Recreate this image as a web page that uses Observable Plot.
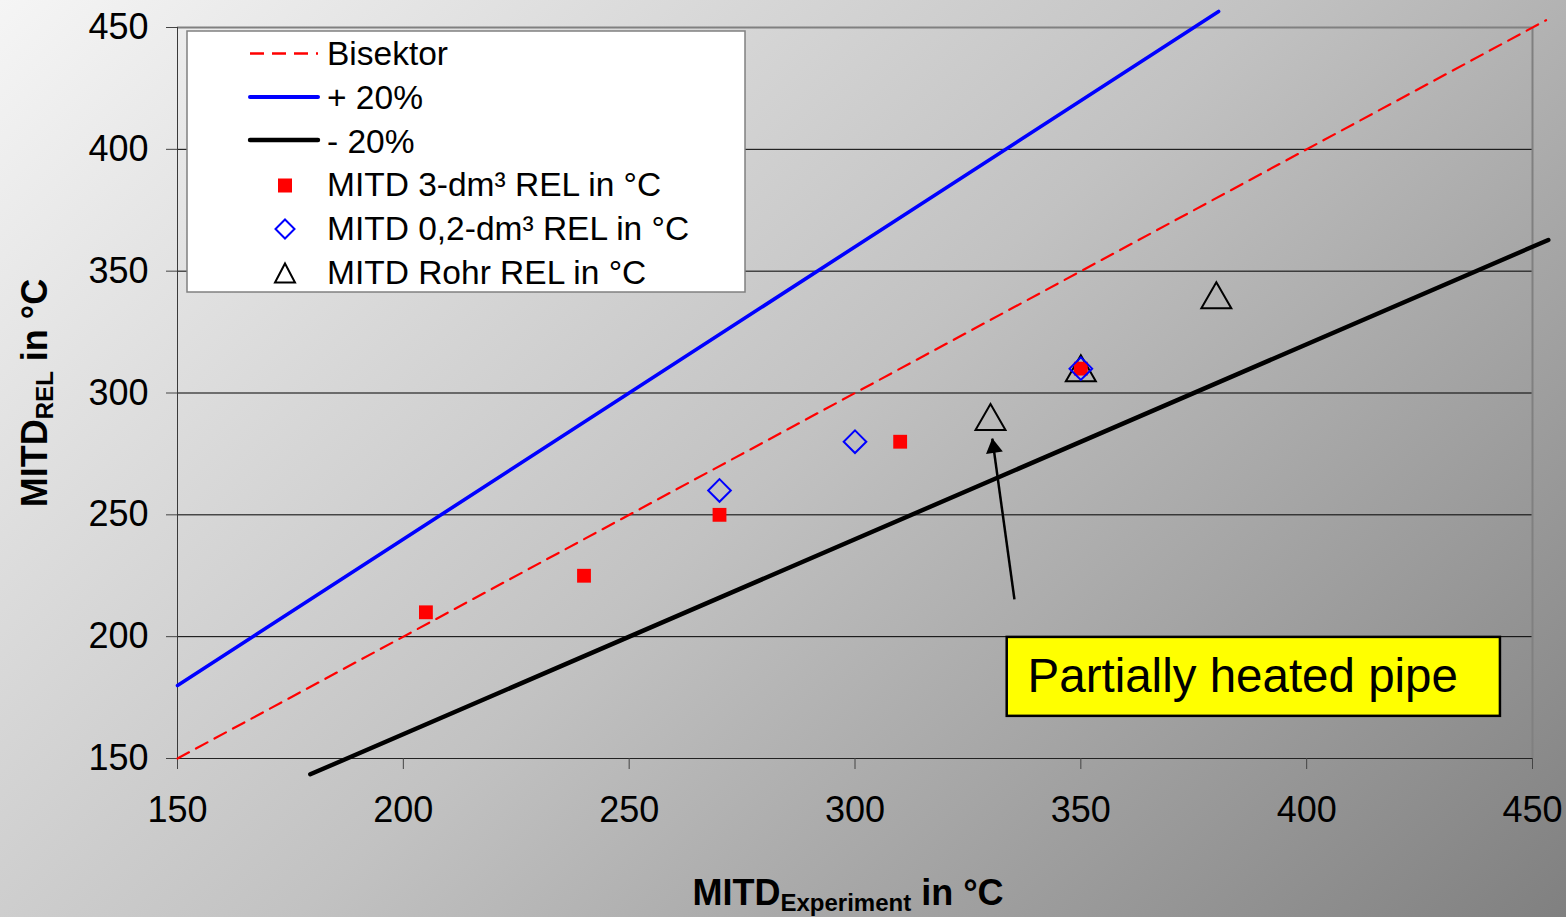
<!DOCTYPE html>
<html>
<head>
<meta charset="utf-8">
<script src="https://cdn.jsdelivr.net/npm/d3@7"></script>
<script src="https://cdn.jsdelivr.net/npm/@observablehq/plot@0.6"></script>
<style>
  html, body { margin: 0; padding: 0; overflow: hidden; }
  body {
    width: 1566px; height: 917px; position: relative;
    background: linear-gradient(136.8deg, #f5f5f5 0%, #c2c2c2 50%, #808080 100%);
    font-family: "Liberation Sans", Arial, sans-serif;
  }
  #chart { position: absolute; left: 0; top: 0; }
  #legend { position: absolute; left: 186px; top: 30px; }
</style>
</head>
<body>
<div id="chart"></div>
<div id="legend"></div>
<script>
// ---- data ----
const xTicks = [150, 200, 250, 300, 350, 400, 450];
const yTicks = [150, 200, 250, 300, 350, 400, 450];
const gridY = [200, 250, 300, 350, 400];

// reference lines (endpoints)
const bisektorX = [150, 453];
const bisektorY = [150, 453];
const plusX = [150, 380.5];
const plusY = [180, 456.6];
const minusX = [179.4, 453.5];
const minusY = [143.5, 362.8];

// MITD 3-dm³ REL
const red3X = [205, 240, 270, 310, 350];
const red3Y = [210, 225, 250, 280, 310];
// MITD 0,2-dm³ REL
const blue02X = [270, 300, 350];
const blue02Y = [260, 280, 310];
// MITD Rohr REL
const rohrX = [330, 350, 380];
const rohrY = [290, 310, 340];

const legendLabels = ["Bisektor", "+ 20%", "- 20%", "MITD 3-dm³ REL in °C", "MITD 0,2-dm³ REL in °C", "MITD Rohr REL in °C"];

// annotation
const noteText = "Partially heated pipe";
const noteBoxX = [333.7, 442.9];
const noteBoxY = [167.3, 199.7];
const noteTextX = 338.2;
const noteTextY = 183.6;
const arrowFrom = [335.3, 215.3];
const arrowTo = [330.4, 281.3];

// ---- chart ----
const plot = Plot.plot({
  width: 1566,
  height: 917,
  marginLeft: 177,
  marginRight: 34,
  marginTop: 27,
  marginBottom: 159,
  x: { domain: [150, 450] },
  y: { domain: [150, 450] },
  style: {
    background: "transparent",
    fontFamily: "'Liberation Sans', Arial, sans-serif",
    fontSize: "36px",
    color: "black",
    overflow: "visible"
  },
  marks: [
    Plot.ruleY(gridY, { stroke: "#000", strokeWidth: 1 }),
    Plot.ruleY([450], { stroke: "#808080", strokeWidth: 2 }),
    Plot.ruleX([450], { stroke: "#808080", strokeWidth: 2 }),
    Plot.ruleX([150], { stroke: "#3a3a3a", strokeWidth: 1 }),
    Plot.ruleY([150], { stroke: "#222", strokeWidth: 1.2 }),
    Plot.axisX(xTicks, { tickSize: 11, tickPadding: 27, label: null, stroke: "#444", fill: "black" }),
    Plot.axisY(yTicks, { tickSize: 11, tickPadding: 18, label: null, stroke: "#444", fill: "black" }),
    Plot.line(d3.zip(bisektorX, bisektorY), { stroke: "#ff0000", strokeWidth: 2.2, strokeDasharray: "13,8" }),
    Plot.line(d3.zip(plusX, plusY), { stroke: "#0000ff", strokeWidth: 3.6 }),
    Plot.line(d3.zip(minusX, minusY), { stroke: "#000", strokeWidth: 4.4 }),
    Plot.dot(d3.zip(rohrX, rohrY), { symbol: "triangle2", r: 14.3, stroke: "#000", strokeWidth: 2, fill: "none", dy: 4 }),
    Plot.dot(d3.zip(red3X, red3Y), { symbol: "square", r: 7.8, fill: "#ff0000" }),
    Plot.dot(d3.zip(blue02X, blue02Y), { symbol: "diamond2", r: 10.2, stroke: "#0000ff", strokeWidth: 2, fill: "none" }),
    Plot.link([{ x1: arrowFrom[0], y1: arrowFrom[1], x2: arrowTo[0], y2: arrowTo[1] }], { x1: "x1", y1: "y1", x2: "x2", y2: "y2", stroke: "#000", strokeWidth: 2.5 }),
    Plot.dot([arrowTo], { x: d => d[0], y: d => d[1], symbol: "triangle", r: 6.3, fill: "#000", rotate: -8.5, dx: 1.4, dy: 9.3 }),
    Plot.rect([0], { x1: () => noteBoxX[0], x2: () => noteBoxX[1], y1: () => noteBoxY[0], y2: () => noteBoxY[1], fill: "#ffff00", stroke: "#000", strokeWidth: 2.5 }),
    Plot.text([noteText], { x: () => noteTextX, y: () => noteTextY, text: d => d, textAnchor: "start", fontSize: 47.5, fill: "#000" })
  ]
});
document.getElementById("chart").appendChild(plot);

// axis titles with subscripts
const svg = d3.select(plot);
const xl = svg.append("text")
  .attr("x", 848).attr("y", 905)
  .attr("text-anchor", "middle")
  .attr("font-weight", "bold").attr("font-size", 36).attr("fill", "#000");
xl.append("tspan").text("MITD");
xl.append("tspan").attr("font-size", 24).attr("dy", 6).text("Experiment");
xl.append("tspan").attr("dy", -6).attr("font-size", 36).text(" in °C");

const yl = svg.append("text")
  .attr("transform", "translate(47,393) rotate(-90)")
  .attr("text-anchor", "middle")
  .attr("font-weight", "bold").attr("font-size", 36).attr("fill", "#000");
yl.append("tspan").text("MITD");
yl.append("tspan").attr("font-size", 24).attr("dy", 6).text("REL");
yl.append("tspan").attr("dy", -6).attr("font-size", 36).text(" in °C");

// ---- legend ----
const lw = 560, lh = 263;
const leg = d3.select("#legend").append("svg")
  .attr("width", lw).attr("height", lh)
  .style("font-family", "'Liberation Sans', Arial, sans-serif");
leg.append("rect").attr("x", 1).attr("y", 1).attr("width", lw - 2).attr("height", lh - 2)
  .attr("fill", "#fff").attr("stroke", "#808080").attr("stroke-width", 1.5);
const rowsY = [23.5, 67, 110, 155.5, 199, 243];
const baseY = [35, 79, 123, 165.5, 210, 253.5];
const sx0 = 64, sx1 = 132, sc = 99;
// swatches
leg.append("line").attr("x1", sx0).attr("x2", sx1).attr("y1", rowsY[0]).attr("y2", rowsY[0])
  .attr("stroke", "#ff0000").attr("stroke-width", 2.5).attr("stroke-dasharray", "14,8");
leg.append("line").attr("x1", sx0).attr("x2", sx1).attr("y1", rowsY[1]).attr("y2", rowsY[1])
  .attr("stroke", "#0000ff").attr("stroke-width", 4).attr("stroke-linecap", "round");
leg.append("line").attr("x1", sx0).attr("x2", sx1).attr("y1", rowsY[2]).attr("y2", rowsY[2])
  .attr("stroke", "#000").attr("stroke-width", 4.4).attr("stroke-linecap", "round");
leg.append("rect").attr("x", sc - 7).attr("y", rowsY[3] - 7).attr("width", 14).attr("height", 14).attr("fill", "#ff0000");
leg.append("path").attr("d", `M${sc},${rowsY[4] - 9.5}L${sc + 9.5},${rowsY[4]}L${sc},${rowsY[4] + 9.5}L${sc - 9.5},${rowsY[4]}Z`)
  .attr("fill", "none").attr("stroke", "#0000ff").attr("stroke-width", 2);
leg.append("path").attr("d", `M${sc},${rowsY[5] - 9.5}L${sc + 10},${rowsY[5] + 9.5}L${sc - 10},${rowsY[5] + 9.5}Z`)
  .attr("fill", "none").attr("stroke", "#000").attr("stroke-width", 2);
legendLabels.forEach((t, i) => {
  leg.append("text").attr("x", 141).attr("y", baseY[i]).attr("font-size", 33.5).attr("fill", "#000").text(t);
});
</script>
</body>
</html>
